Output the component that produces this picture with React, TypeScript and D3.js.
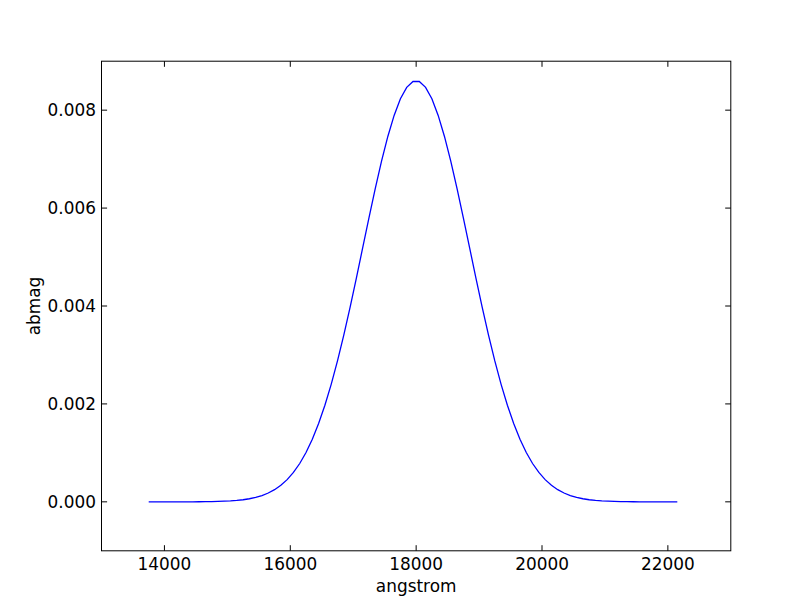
import * as d3 from "d3";

// wavelength samples (angstrom) and the bandpass values
const startWave = 13750;
const waveStep = 100;
const abmag = [
  0.0, 0.0, 0.0, 0.0, 0.0, 0.0, 0.000001, 0.000001, 0.000002, 0.000003,
  0.000005, 0.000008, 0.000013, 0.000019, 0.000029, 0.000043, 0.000063,
  0.000091, 0.000129, 0.00018, 0.000248, 0.000338, 0.000453, 0.0006,
  0.000783, 0.001007, 0.001279, 0.001599, 0.001973, 0.0024, 0.002879,
  0.003406, 0.003974, 0.004571, 0.005186, 0.0058, 0.006398, 0.006958,
  0.007463, 0.007893, 0.008232, 0.008466, 0.008585, 0.008585, 0.008466,
  0.008232, 0.007893, 0.007463, 0.006958, 0.006398, 0.0058, 0.005186,
  0.004571, 0.003974, 0.003406, 0.002879, 0.0024, 0.001973, 0.001599,
  0.001279, 0.001007, 0.000783, 0.0006, 0.000453, 0.000338, 0.000248,
  0.00018, 0.000129, 0.000091, 0.000063, 0.000043, 0.000029, 0.000019,
  0.000013, 0.000008, 0.000005, 0.000003, 0.000002, 0.000001, 0.000001,
  0.0, 0.0, 0.0, 0.0, 0.0,
];
const waves = abmag.map((_, i) => startWave + i * waveStep);

const xTicks = [14000, 16000, 18000, 20000, 22000];
const yTicks = [0.0, 0.002, 0.004, 0.006, 0.008];

const W = 812;
const H = 612;
const margin = { left: 101.5, right: 81.2, top: 61.2, bottom: 61.2 };
const tickLen = 5.6;
const font = "DejaVu Sans";

export default function App() {
  const x = d3
    .scaleLinear()
    .domain([13000, 23000])
    .range([margin.left, W - margin.right]);
  const y = d3
    .scaleLinear()
    .domain([-0.001, 0.009])
    .range([H - margin.bottom, margin.top]);

  const line = d3
    .line<number>()
    .x((_, i) => x(waves[i]))
    .y((d) => y(d));

  const [x0, x1] = x.range();
  const [y0, y1] = y.range();

  return (
    <svg
      width={W}
      height={H}
      style={{ position: "absolute", left: 0, top: 0, background: "#fff" }}
    >
      <rect x={0} y={0} width={W} height={H} fill="#fff" />
      <path d={line(abmag) || ""} fill="none" stroke="#0000ff" strokeWidth={1.3} />

      {/* x ticks, bottom and top, pointing inward */}
      {xTicks.map((t) => (
        <g key={"x" + t}>
          <line x1={x(t)} x2={x(t)} y1={y0} y2={y0 - tickLen} stroke="#000" />
          <line x1={x(t)} x2={x(t)} y1={y1} y2={y1 + tickLen} stroke="#000" />
          <text
            x={x(t)}
            y={y0 + 19.5}
            textAnchor="middle"
            fontFamily={font}
            fontSize={16.9}
          >
            {t}
          </text>
        </g>
      ))}

      {/* y ticks, left and right */}
      {yTicks.map((t) => (
        <g key={"y" + t}>
          <line x1={x0} x2={x0 + tickLen} y1={y(t)} y2={y(t)} stroke="#000" />
          <line x1={x1} x2={x1 - tickLen} y1={y(t)} y2={y(t)} stroke="#000" />
          <text
            x={x0 - tickLen}
            y={y(t)}
            dy="0.36em"
            textAnchor="end"
            fontFamily={font}
            fontSize={16.9}
          >
            {d3.format(".3f")(t)}
          </text>
        </g>
      ))}

      <rect
        x={x0}
        y={y1}
        width={x1 - x0}
        height={y0 - y1}
        fill="none"
        stroke="#000"
        strokeWidth={1}
      />

      <text
        x={(x0 + x1) / 2}
        y={y0 + 41}
        textAnchor="middle"
        fontFamily={font}
        fontSize={16.9}
      >
        angstrom
      </text>
      <text
        transform={`translate(40,${(y0 + y1) / 2}) rotate(-90)`}
        textAnchor="middle"
        fontFamily={font}
        fontSize={16.9}
      >
        abmag
      </text>
    </svg>
  );
}
